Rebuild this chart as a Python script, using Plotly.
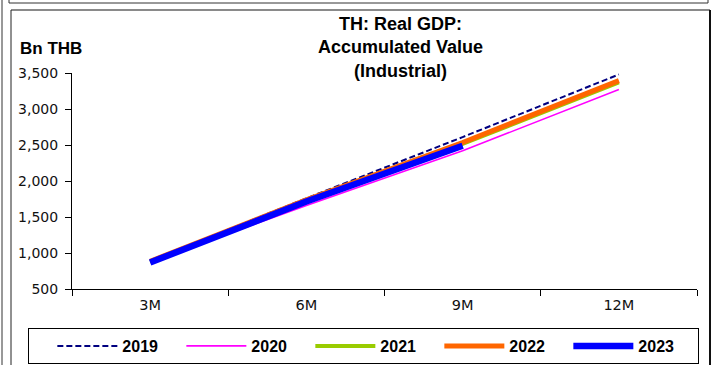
import plotly.graph_objects as go

categories = ["3M", "6M", "9M", "12M"]
years = ["2019", "2020", "2021", "2022", "2023"]
v2019 = [890, 1760, 2610, 3480]
v2020 = [875, 1660, 2420, 3270]
v2021 = [875, 1725, 2515, 3370]
v2022 = [885, 1740, 2535, 3395]
v2023 = [868, 1715, 2490]
series_values = [v2019, v2020, v2021, v2022, v2023]
colors = ["#000080", "#FF00FF", "#99CC00", "#FF6600", "#0000FF"]
widths = [2, 1.6, 4, 5, 6.5]
dashes = ["6px,3px", "solid", "solid", "solid", "solid"]
y_ticks = [500, 1000, 1500, 2000, 2500, 3000, 3500]

FONT = "Liberation Sans, Arial, sans-serif"
TICKFONT = "DejaVu Sans, Verdana, sans-serif"

fig = go.Figure()
for name, vals, c, w, d in zip(years, series_values, colors, widths, dashes):
    fig.add_trace(go.Scatter(
        x=categories[:len(vals)], y=vals, name=name, mode="lines",
        line=dict(color=c, width=w, dash=d),
    ))

L, R, T, B = 72, 15, 73, 76
W, H = 712, 365
pw, ph = W - L - R, H - T - B

def px(xp):
    return (xp - L) / pw

def py(yp):
    return (H - B - yp) / ph

shapes = [
    dict(type="line", xref="paper", yref="paper", x0=px(2), x1=px(2), y0=py(0), y1=py(366),
         line=dict(color="#333333", width=1)),
    dict(type="line", xref="paper", yref="paper", x0=px(9), x1=px(708), y0=py(3), y1=py(3),
         line=dict(color="#333333", width=1)),
    dict(type="line", xref="paper", yref="paper", x0=px(9), x1=px(9), y0=py(0), y1=py(3),
         line=dict(color="#333333", width=1)),
    dict(type="line", xref="paper", yref="paper", x0=px(708), x1=px(708), y0=py(0), y1=py(3),
         line=dict(color="#333333", width=1)),
    dict(type="line", xref="paper", yref="paper", x0=px(11), x1=px(710), y0=py(10), y1=py(10),
         line=dict(color="#8a8a8a", width=2)),
    dict(type="line", xref="paper", yref="paper", x0=px(11), x1=px(11), y0=py(10), y1=py(366),
         line=dict(color="#222222", width=1)),
    dict(type="line", xref="paper", yref="paper", x0=px(710), x1=px(710), y0=py(10), y1=py(366),
         line=dict(color="#111111", width=2)),
]

fig.update_layout(
    width=W, height=H,
    margin=dict(l=L, r=R, t=T, b=B, autoexpand=False),
    paper_bgcolor="white", plot_bgcolor="white",
    font=dict(family=FONT, size=14, color="#111111"),
    showlegend=True,
    legend=dict(
        orientation="h", x=px(28), xanchor="left", y=py(346), yanchor="middle",
        bordercolor="#000000", borderwidth=1, bgcolor="white",
        font=dict(family=FONT, size=16, color="#000000", weight="bold"),
        entrywidth=54, entrywidthmode="pixels", itemwidth=60,
        tracegroupgap=0,
        title=dict(text="&nbsp;&nbsp;&nbsp;", side="left",
                   font=dict(family=FONT, size=16)),
    ),
    xaxis=dict(
        type="category", categoryorder="array", categoryarray=categories,
        range=[-0.5, 3.5], showgrid=False, zeroline=False,
        showline=True, linecolor="#000000", linewidth=1,
        ticks="outside", ticklen=6, tickcolor="#000000", tickson="boundaries",
        ticklabelstandoff=3,
        tickfont=dict(family=TICKFONT, size=14.5, color="#111111"),
    ),
    yaxis=dict(
        range=[500, 3500], tickvals=y_ticks, tickformat=",", showgrid=False,
        zeroline=False, showline=True, linecolor="#000000", linewidth=1,
        ticks="outside", ticklen=6, tickcolor="#000000", ticklabelstandoff=4,
        tickfont=dict(family=TICKFONT, size=14, color="#111111"),
    ),
    shapes=shapes,
    annotations=[
        dict(text="TH: Real GDP:<br>Accumulated Value<br>(Industrial)",
             xref="paper", yref="paper", x=px(400), y=py(12), xanchor="center", yanchor="top",
             showarrow=False, align="center",
             font=dict(family=FONT, size=18, color="#000000", weight="bold")),
        dict(text="Bn THB", xref="paper", yref="paper", x=px(18), y=py(49),
             xanchor="left", yanchor="middle", showarrow=False,
             font=dict(family=FONT, size=17, color="#000000", weight="bold")),
    ],
)

fig.write_html("out.html", config={"displayModeBar": False},
               post_script="document.body.style.margin='0';document.body.style.padding='0';")
